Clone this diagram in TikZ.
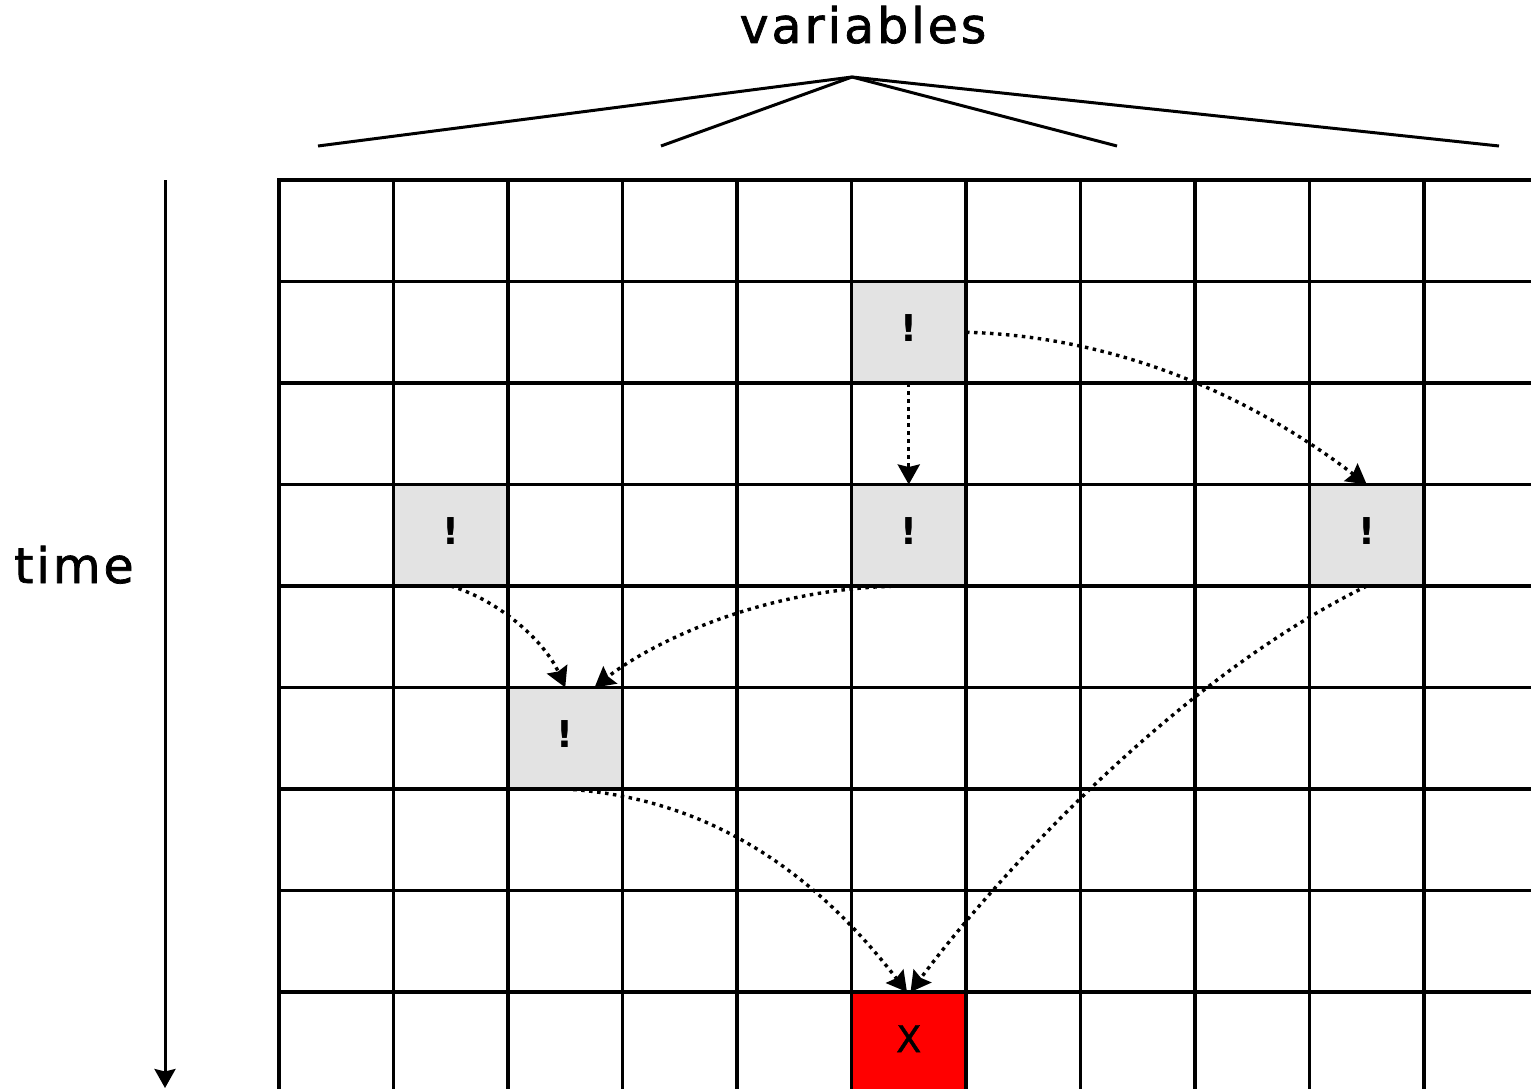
\documentclass[tikz,border=0pt]{standalone}
\usepackage{fontspec}
\setmainfont{DejaVu Sans}
\newfontfamily\labelfont[LetterSpace=6,FakeBold=1.5]{DejaVu Sans}
\newfontfamily\markfont[FakeBold=1]{DejaVu Sans}
\usetikzlibrary{arrows.meta}
\definecolor{cellgray}{RGB}{227,227,227}
\definecolor{hotred}{RGB}{255,0,0}
\begin{document}
\begin{tikzpicture}[x=1pt,y=-1pt,
  gridline/.style={line width=3.2pt, line cap=rect},
  cell/.style={minimum width=114.5pt, minimum height=101.5pt, inner sep=0pt, outer sep=0pt, draw=none, font=\fontsize{37}{40}\selectfont\bfseries},
  warn/.style={cell, fill=cellgray},
  bad/.style={cell, fill=hotred, font=\markfont\fontsize{37}{40}\selectfont},
  dep/.style={line width=3.4pt, dash pattern=on 3.5pt off 4.5pt, -{Stealth[length=20pt,width=22pt,inset=2.5pt]}},
  axis/.style={line width=3pt, -{Stealth[length=19pt,width=21pt,inset=2.5pt]}},
  title/.style={font=\labelfont\fontsize{49}{58}\selectfont, anchor=base},
  brace/.style={line width=3pt, line join=round}
]
\useasboundingbox[fill=white] (0,0) rectangle (1531,1089);

% highlighted cells
\node[warn] (c51) at (908.75,332.25) {\raisebox{8pt}{!}};
\node[warn] (c13) at (450.75,535.25) {\raisebox{8pt}{!}};
\node[warn] (c53) at (908.75,535.25) {\raisebox{8pt}{!}};
\node[warn] (c93) at (1366.75,535.25) {\raisebox{8pt}{!}};
\node[warn] (c25) at (565.25,738.25) {\raisebox{8pt}{!}};
\node[bad] (x58) at (908.75,1042.75) {\raisebox{8pt}{X}};

% grid
\foreach \i in {0,...,10}
  \draw[gridline] ({279+114.5*\i},180) -- ({279+114.5*\i},1100);
\foreach \j in {0,...,8}
  \draw[gridline] (279,{180+101.5*\j}) -- (1545,{180+101.5*\j});

% time axis
\coordinate (ttop) at (165,180);
\coordinate (tbot) at (165,1088);
\draw[axis] (ttop) -- (tbot);
\node[title] (time) at (74,583) {time};

% variables
\node[title] (var) at (863,43) {variables};
\coordinate (apex) at (852,77);
\coordinate (v1) at (318,146);
\coordinate (v2) at (661,146);
\coordinate (v3) at (1117,146);
\coordinate (v4) at (1499,146);
\draw[brace] (v1) -- (apex) -- (v4);
\draw[brace] (v2) -- (apex) -- (v3);

% dependencies
\draw[dep] (c51.east) .. controls +(180,5) and +(-85,-65) .. (c93.north);
\draw[dep] (c51.south) -- (c53.north);
\draw[dep] (c13.south) .. controls +(50,15) and +(-20,-45) .. (c25.north);
\draw[dep] (c53.south) .. controls +(-150,0) and +(50,-40) .. (c25.60);
\draw[dep] (c93.south) .. controls +(-200,98) and +(75,-101) .. (x58.88);
\draw[dep] (c25.south) .. controls +(170,10) and +(-70,-90) .. (x58.92);
\end{tikzpicture}
\end{document}
